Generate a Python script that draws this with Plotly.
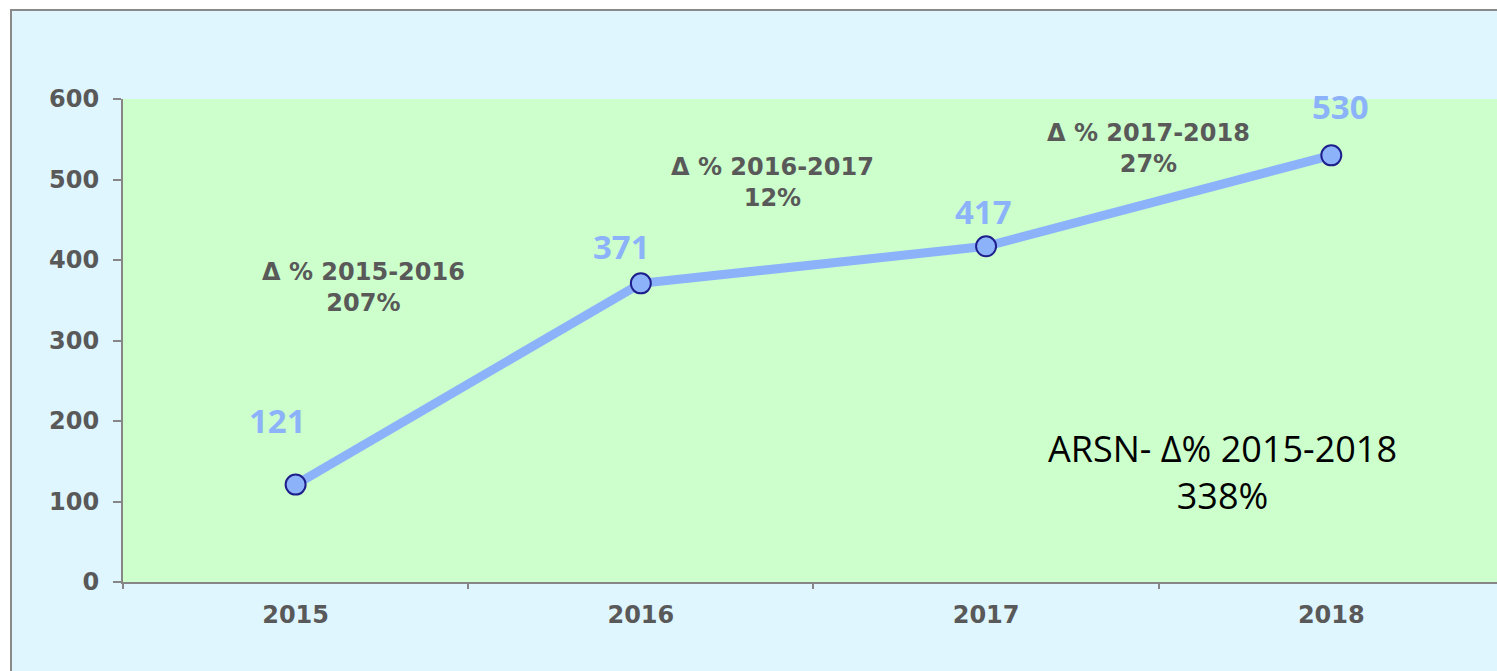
import plotly.graph_objects as go

# ---- data ----
years = ["2015", "2016", "2017", "2018"]
values = [121, 371, 417, 530]
period_labels = ["Δ % 2015-2016", "Δ % 2016-2017", "Δ % 2017-2018"]
total_label = "ARSN- Δ% 2015-2018"
y_ticks = [0, 100, 200, 300, 400, 500, 600]

# ---- derived texts ----
period_pct = [round((values[i + 1] / values[i] - 1) * 100) for i in range(len(values) - 1)]
total_pct = round((values[-1] / values[0] - 1) * 100)

# ---- styles ----
LINE_COL = "#8CB3FA"
GREY_TXT = "#595959"
AXIS_COL = "#868686"
FONT = "Open Sans"
BOLD_FONT = "DejaVu Sans"

W, H = 1497, 671
ML, MT, MB = 123, 99, 89

fig = go.Figure()
fig.add_trace(go.Scatter(
    x=years, y=values, mode="lines+markers",
    line=dict(color=LINE_COL, width=9),
    marker=dict(size=20, color=LINE_COL, line=dict(color="#1F1F8C", width=2)),
    hoverinfo="skip", showlegend=False,
))

# value labels (anchored on the category index of each point)
shifts = [(-18, 64), (-19, 37), (-3, 35), (9, 49)]
for i, (v, (dx, dy)) in enumerate(zip(values, shifts)):
    fig.add_annotation(x=i, y=v, text=f"<b>{v}</b>", showarrow=False,
                       xshift=dx, yshift=dy, yanchor="middle",
                       font=dict(family=FONT, size=33, color=LINE_COL))

# period change annotations (text positions)
period_pos = [(0.197, 366), (1.38, 496), (2.47, 539)]
for lab, pct, (px, py) in zip(period_labels, period_pct, period_pos):
    fig.add_annotation(x=px, y=py, text=f"{lab}<br>{pct}%", showarrow=False,
                       align="center", yanchor="middle",
                       font=dict(family=BOLD_FONT, size=24, color=GREY_TXT, weight="bold"))

fig.add_annotation(x=2.684, y=137, text=f"{total_label}<br>{total_pct}%", showarrow=False,
                   align="center", yanchor="middle",
                   font=dict(family=FONT, size=36, color="#000000"))

plot_w = W - ML
plot_h = H - MT - MB
# outer light-blue frame and green plot area
fig.add_shape(type="rect", xref="paper", yref="paper", layer="below",
              x0=(11 - ML) / plot_w, x1=1.02, y0=-(H + 20 - (H - MB)) / plot_h, y1=(H - MB - 10) / plot_h,
              fillcolor="#DFF6FF", line=dict(color="#8A8A8A", width=2))
fig.add_shape(type="rect", xref="paper", yref="paper", layer="below",
              x0=0, x1=1, y0=0, y1=1, fillcolor="#CCFFCC", line=dict(width=0))

fig.update_layout(
    width=W, height=H,
    margin=dict(l=ML, r=0, t=MT, b=MB, autoexpand=False),
    paper_bgcolor="white", plot_bgcolor="rgba(0,0,0,0)",
    font=dict(family=FONT),
    xaxis=dict(type="category", range=[-0.5, 3.48], showgrid=False, zeroline=False,
               showline=True, linecolor=AXIS_COL, linewidth=2,
               ticks="outside", tickson="boundaries", ticklen=5, tickcolor=AXIS_COL, tickwidth=1.5,
               tickfont=dict(family=BOLD_FONT, size=24, color=GREY_TXT, weight="bold"),
               ticklabelstandoff=10),
    yaxis=dict(range=[0, 600], tickvals=y_ticks, showgrid=False, zeroline=False,
               showline=True, linecolor=AXIS_COL, linewidth=2,
               ticks="outside", ticklen=8, tickcolor=AXIS_COL, tickwidth=1.5,
               tickfont=dict(family=BOLD_FONT, size=24, color=GREY_TXT, weight="bold"),
               ticklabelstandoff=9),
)

fig.write_html("out.html", config={"displayModeBar": False},
               post_script="document.body.style.margin='0';document.body.style.overflow='hidden';")
